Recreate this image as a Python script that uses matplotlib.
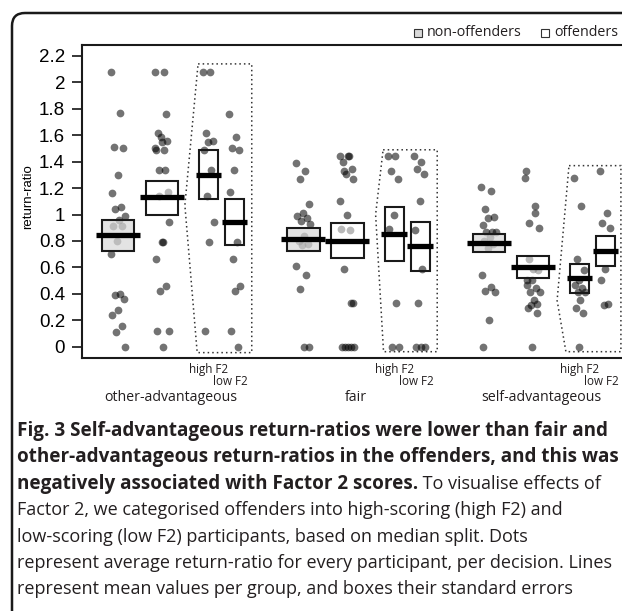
import matplotlib
matplotlib.use('Agg')
import matplotlib.pyplot as plt
from matplotlib.patches import Rectangle, FancyBboxPatch, Polygon
from matplotlib.ticker import FormatStrFormatter

# values (return-ratio per participant)
decisions = ['other-advantageous', 'fair', 'self-advantageous']
f2_labels = ['high F2', 'low F2']

nonoff_vals = [
    [2.08, 1.77, 1.51, 1.50, 1.30, 1.16, 1.06, 1.04, 0.99, 0.955, 0.91, 0.91,
     0.80, 0.70, 0.40, 0.39, 0.36, 0.28, 0.24, 0.16, 0.11, 0.0],
    [1.39, 1.33, 1.27, 1.08, 1.01, 0.99, 0.975, 0.95, 0.93, 0.84, 0.80, 0.78,
     0.77, 0.61, 0.54, 0.44, 0.0, 0.0],
    [1.21, 1.18, 1.04, 0.98, 0.97, 0.92, 0.87, 0.87, 0.87, 0.83, 0.80, 0.78,
     0.745, 0.54, 0.455, 0.425, 0.415, 0.20, 0.0],
]
highf2_vals = [
    [2.08, 2.08, 1.62, 1.56, 1.55, 1.49, 1.34, 1.14, 0.945, 0.79, 0.12],
    [1.445, 1.445, 1.33, 1.27, 1.0, 0.89, 0.33, 0.0, 0.0],
    [1.275, 1.065, 0.66, 0.58, 0.505, 0.47, 0.445, 0.41, 0.41, 0.35, 0.29,
     0.255, 0.0],
]
lowf2_vals = [
    [1.76, 1.585, 1.50, 1.49, 1.34, 1.17, 0.79, 0.66, 0.46, 0.42, 0.12, 0.0],
    [1.445, 1.40, 1.345, 1.31, 1.105, 0.885, 0.585, 0.33, 0.0, 0.0, 0.0],
    [1.33, 1.01, 0.935, 0.895, 0.59, 0.505, 0.32, 0.315],
]
# offenders = high F2 + low F2
off_vals = [h + l for h, l in zip(highf2_vals, lowf2_vals)]

# group means and standard-error boxes (lower, upper)
nonoff_mean = [0.845, 0.815, 0.783]
nonoff_lo = [0.724, 0.727, 0.719]
nonoff_hi = [0.959, 0.900, 0.851]
off_mean = [1.131, 0.800, 0.606]
off_lo = [0.997, 0.669, 0.522]
off_hi = [1.257, 0.934, 0.687]
high_mean = [1.300, 0.853, 0.518]
high_lo = [1.116, 0.651, 0.409]
high_hi = [1.489, 1.055, 0.624]
low_mean = [0.942, 0.765, 0.724]
low_lo = [0.770, 0.575, 0.611]
low_hi = [1.116, 0.946, 0.838]

caption = [
    ('Fig. 3 Self-advantageous return-ratios were lower than fair and', ''),
    ('other-advantageous return-ratios in the offenders, and this was', ''),
    ('negatively associated with Factor 2 scores.', ' To visualise effects of'),
    ('', 'Factor 2, we categorised offenders into high-scoring (high F2) and'),
    ('', 'low-scoring (low F2) participants, based on median split. Dots'),
    ('', 'represent average return-ratio for every participant, per decision. Lines'),
    ('', 'represent mean values per group, and boxes their standard errors'),
]

# layout
W, H = 622, 611
group_base = [0.0, 4.215, 8.43]
col_off = [0.0, 1.0, 2.06, 2.65]
wide_box, narrow_box = 0.73, 0.43
wide_line, narrow_line = 1.0, 0.58
# dotted outline around the F2 split, (dx, y) per group
outlines = [
    [(1.82, 2.14), (3.04, 2.14), (3.04, -0.045), (1.80, -0.045), (1.52, 1.07)],
    [(1.81, 1.49), (3.04, 1.49), (3.04, -0.038), (1.82, -0.038), (1.64, 1.0)],
    [(1.82, 1.37), (3.0, 1.37), (3.0, -0.038), (1.75, -0.038), (1.55, 0.35)],
]

txt_col = '#231f20'
cap_font = 'Open Sans'

fig = plt.figure(figsize=(W / 100, H / 100), dpi=100)
renderer = fig.canvas.get_renderer()

# rounded frame around figure + caption (runs off the right/bottom edge)
frame = FancyBboxPatch((0.12, -0.5), 6.6, 6.48, boxstyle='round,pad=0,rounding_size=0.13',
                       transform=fig.dpi_scale_trans, fill=False, lw=1.8,
                       edgecolor='#1a1a1a')
fig.patches.append(frame)

ax = fig.add_axes([82 / W, 1 - 358.3 / H, 558 / W, (358.3 - 45) / H])
ax.set_xlim(-0.818, -0.818 + 558 / 44)
ax.set_ylim(-0.088, 2.283)


def jitter(n, width):
    return [((i * 0.618034) % 1 - 0.5) * width for i in range(n)]


cols = [
    (nonoff_vals, nonoff_mean, nonoff_lo, nonoff_hi, wide_box, wide_line, ('#d9d9d9', 0.72), 0.34),
    (off_vals, off_mean, off_lo, off_hi, wide_box, wide_line, ('white', 0.5), 0.34),
    (highf2_vals, high_mean, high_lo, high_hi, narrow_box, narrow_line, None, 0.26),
    (lowf2_vals, low_mean, low_lo, low_hi, narrow_box, narrow_line, None, 0.26),
]

tr = ax.get_xaxis_transform()
for g in range(3):
    for c, (vals, means, los, his, bw, lw_, fill, jw) in enumerate(cols):
        x0 = group_base[g] + col_off[c]
        v = vals[g]
        xs = [x0 + j for j in jitter(len(v), jw)]
        ax.scatter(xs, v, s=31, color='black', alpha=0.55, lw=0, zorder=2)
        if fill is not None:
            ax.add_patch(Rectangle((x0 - bw / 2, los[g]), bw, his[g] - los[g],
                                   facecolor=fill[0], alpha=fill[1], lw=0, zorder=3))
        ax.add_patch(Rectangle((x0 - bw / 2, los[g]), bw, his[g] - los[g],
                               fill=False, edgecolor='#1a1a1a', lw=1.5, zorder=3))
        ax.plot([x0 - lw_ / 2, x0 + lw_ / 2], [means[g], means[g]], color='black',
                lw=3.8, solid_capstyle='butt', zorder=4)
    verts = [(group_base[g] + dx, y) for dx, y in outlines[g]]
    ax.add_patch(Polygon(verts, closed=True, fill=False, ls=(0, (1, 2)), lw=1.1,
                         edgecolor='#333333', zorder=1))

    # labels below the axis
    ax.text(group_base[g] + col_off[2], -0.037, f2_labels[0], transform=tr, ha='center',
            va='center', fontsize=8.4, family=cap_font, color=txt_col, clip_on=False)
    ax.text(group_base[g] + col_off[3] + 0.3, -0.073, f2_labels[1], transform=tr, ha='right',
            va='center', fontsize=8.4, family=cap_font, color=txt_col, clip_on=False)
    ax.text(group_base[g] + 1.2, -0.125, decisions[g], transform=tr, ha='center',
            va='center', fontsize=10.2, family=cap_font, color=txt_col, clip_on=False)

for side in ['top', 'left', 'bottom']:
    ax.spines[side].set_linewidth(1.5)
    ax.spines[side].set_color('#1a1a1a')
ax.spines['right'].set_visible(False)
ax.set_xticks([])
ax.set_yticks([i * 0.2 for i in range(12)])
ax.yaxis.set_major_formatter(FormatStrFormatter('%g'))
ax.tick_params(axis='y', length=7.2, width=1.1, pad=5, labelsize=13.5)
for lab in ax.get_yticklabels():
    lab.set_family('Liberation Sans')
ax.set_ylabel('return-ratio', family='Liberation Sans', fontsize=9.5)
ax.yaxis.set_label_coords((34 - 82) / 558, 0.515)

# legend at the top right, kept inside the figure
for x_sq, fc, label in [(414, '#d9d9d9', 'non-offenders'), (541, 'white', 'offenders')]:
    fig.patches.append(Rectangle((x_sq / W, 1 - 37 / H), 8 / W, 8 / H, transform=fig.transFigure,
                                 facecolor=fc, edgecolor='#333333', lw=0.8))
    fig.text((x_sq + 13) / W, 1 - 32.5 / H, label, ha='left', va='center', fontsize=10.3,
             family=cap_font, color=txt_col)


def fitted_size(text, weight, target_px):
    probe = fig.text(0, 0, text, fontsize=10, family=cap_font, weight=weight)
    w = probe.get_window_extent(renderer).width
    probe.remove()
    return 10 * target_px / w


bold_size = fitted_size(caption[0][0], 'bold', 591)
body_size = fitted_size(caption[5][1], 'normal', 594)

# caption
y_px = 431
for bold, normal in caption:
    y = 1 - y_px / H
    if bold:
        t = fig.text(17 / W, y, bold, ha='left', va='center', fontsize=bold_size,
                     family=cap_font, weight='bold', color=txt_col)
        if normal:
            ax.annotate(normal, xy=(1, 0.5), xycoords=t, va='center', ha='left',
                        fontsize=body_size, family=cap_font, color=txt_col,
                        annotation_clip=False)
    else:
        fig.text(17 / W, y, normal, ha='left', va='center', fontsize=body_size,
                 family=cap_font, color=txt_col)
    y_px += 26.4

fig.savefig('out.png', dpi=100)
